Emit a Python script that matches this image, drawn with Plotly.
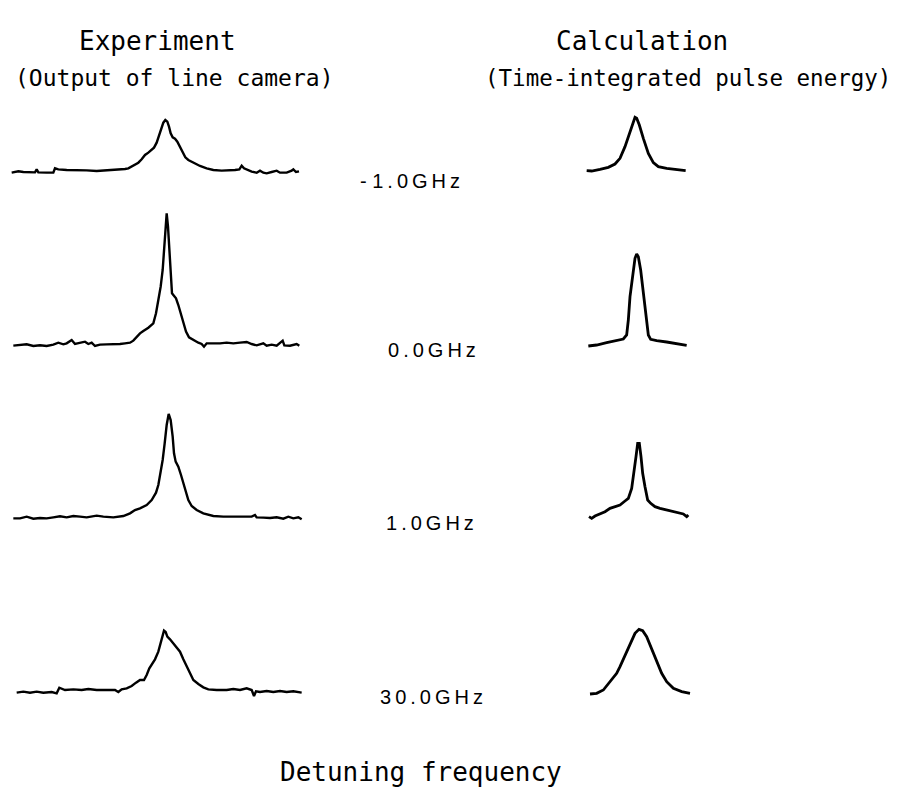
import plotly.graph_objects as go

# ---------------- data (channel, intensity in arbitrary units) ----------------
detunings = ["- 1.0GHz", "0.0GHz", "1.0GHz", "30.0GHz"]

exp1_x = [35, 55, 70, 90, 105, 110, 115, 140, 160, 165, 175, 200, 230, 260, 290, 320, 350, 375, 385, 395, 405, 415, 425, 435, 445, 455, 462, 470, 478, 485, 490, 496, 502, 507, 512, 518, 525, 532, 540, 548, 556, 565, 580, 600, 620, 640, 665, 690, 705, 718, 725, 732, 745, 755, 770, 780, 790, 800, 815, 830, 840, 860, 875, 880, 888, 897]
exp1_y = [0, 4, 2, 2, 1, 10, 1, 0, 0, 13, 10, 8, 8, 7, 5, 7, 8, 11, 13, 18, 23, 30, 40, 53, 60, 68, 75, 90, 113, 136, 150, 158, 153, 138, 118, 106, 102, 93, 78, 60, 46, 38, 30, 20, 13, 8, 6, 6, 8, 10, 21, 13, 8, 3, 0, 6, 0, -2, 2, 6, 0, 0, 6, 10, 2, 4]

exp2_x = [40, 60, 80, 100, 120, 140, 160, 175, 190, 200, 215, 225, 240, 255, 265, 275, 285, 300, 320, 340, 360, 375, 390, 400, 410, 420, 430, 445, 460, 468, 475, 482, 488, 492, 496, 500, 504, 508, 512, 516, 520, 528, 535, 542, 550, 558, 567, 580, 595, 605, 612, 620, 640, 660, 680, 700, 720, 740, 755, 770, 790, 800, 815, 830, 848, 853, 870, 890, 898]
exp2_y = [0, 1, 4, -1, 1, -1, 3, 9, 4, 7, 17, 5, 9, 12, 5, 9, -1, 3, 4, 4, 5, 7, 9, 15, 27, 37, 44, 54, 67, 97, 137, 177, 227, 287, 347, 397, 357, 287, 207, 157, 152, 142, 122, 97, 67, 42, 25, 17, 9, 5, -3, 7, 6, 7, 9, 7, 9, 11, 5, 1, 7, 0, 3, 0, 15, 1, 0, 5, 0]

exp3_x = [40, 60, 80, 100, 120, 140, 160, 180, 200, 220, 240, 260, 290, 310, 340, 370, 390, 405, 420, 440, 455, 468, 475, 482, 488, 494, 500, 506, 512, 518, 522, 527, 535, 543, 550, 558, 565, 575, 590, 610, 640, 670, 700, 730, 755, 765, 770, 790, 810, 830, 850, 865, 880, 895, 905]
exp3_y = [0, 0, 5, -1, 1, 0, 3, 6, 3, 7, 5, 3, 8, 5, 3, 7, 15, 25, 30, 40, 55, 77, 100, 140, 175, 225, 280, 313, 295, 245, 195, 170, 155, 130, 105, 80, 55, 37, 25, 15, 7, 5, 5, 7, 5, 10, 3, 2, 1, 3, -1, 5, 0, 3, -3]

exp4_x = [50, 70, 90, 110, 130, 155, 170, 178, 195, 220, 245, 265, 290, 320, 345, 355, 365, 380, 395, 408, 420, 432, 440, 448, 455, 465, 475, 482, 487, 492, 497, 502, 510, 520, 530, 540, 550, 560, 570, 580, 595, 610, 625, 650, 680, 700, 720, 740, 755, 762, 768, 780, 800, 820, 840, 860, 880, 905]
exp4_y = [0, 3, 0, 3, 0, 2, -2, 15, 8, 10, 8, 11, 8, 8, 8, 2, 10, 13, 20, 30, 38, 38, 53, 73, 83, 100, 123, 148, 168, 186, 182, 168, 160, 148, 133, 123, 100, 78, 55, 38, 26, 16, 10, 8, 8, 11, 8, 13, 8, -10, 4, 2, 5, 2, 5, 2, 4, 0]

calc1_x = [200, 215, 240, 265, 285, 300, 315, 330, 340, 345, 350, 358, 370, 385, 400, 415, 440, 470, 497]
calc1_y = [0, -1, 4, 10, 20, 37, 72, 117, 150, 160, 157, 137, 97, 52, 24, 12, 7, 4, 0]

calc2_x = [205, 230, 260, 290, 310, 320, 325, 330, 338, 345, 350, 355, 362, 370, 378, 385, 392, 410, 440, 470, 500]
calc2_y = [0, 3, 10, 16, 21, 33, 78, 148, 218, 263, 276, 268, 228, 158, 88, 33, 20, 16, 12, 6, 2]

calc3_x = [207, 215, 225, 240, 255, 270, 285, 300, 315, 325, 335, 342, 348, 353, 358, 363, 368, 375, 383, 392, 405, 420, 440, 460, 475, 490, 500, 505]
calc3_y = [2, -3, 4, 10, 17, 27, 32, 37, 49, 57, 87, 132, 182, 222, 222, 182, 132, 92, 52, 42, 32, 27, 22, 17, 12, 10, 2, 7]

calc4_x = [210, 230, 250, 270, 290, 300, 315, 330, 345, 357, 368, 380, 395, 410, 425, 440, 460, 485, 510]
calc4_y = [0, 2, 12, 37, 62, 82, 117, 152, 182, 194, 190, 172, 137, 97, 62, 37, 17, 7, 2]

# ---------------- layout geometry (page pixels; page body has an 8px margin) ----------------
OFF = 8
W, H = 900 - OFF, 804 - OFF
# (x, y, left px, top px, width px, height px, top-of-box in data units)
panels = [
    (exp1_x, exp1_y, 0, 100, 310, 90, 218),
    (exp2_x, exp2_y, 0, 200, 310, 160, 437),
    (exp3_x, exp3_y, 0, 400, 310, 130, 355),
    (exp4_x, exp4_y, 0, 610, 310, 110, 248),
    (calc1_x, calc1_y, 520, 100, 180, 80, 212),
    (calc2_x, calc2_y, 520, 240, 180, 110, 318),
    (calc3_x, calc3_y, 520, 430, 180, 100, 262),
    (calc4_x, calc4_y, 520, 620, 180, 90, 222),
]

fig = go.Figure()
layout_axes = {}
for i, (xs, ys, ox, oy, pw, ph, yb) in enumerate(panels, start=1):
    sfx = "" if i == 1 else str(i)
    left = ox - OFF
    xr0 = 0
    if left < 0:
        xr0 = -left * 3
        pw_eff = pw + left
        left = 0
    else:
        pw_eff = pw
    top = oy - OFF
    fig.add_trace(go.Scatter(
        x=xs, y=ys, mode="lines",
        line=dict(color="black", width=2.4 if i <= 4 else 2.8),
        xaxis="x" + sfx, yaxis="y" + sfx, showlegend=False, hoverinfo="skip",
        cliponaxis=False,
    ))
    layout_axes["xaxis" + sfx] = dict(
        domain=[left / W, (left + pw_eff) / W], range=[xr0, 3 * pw], anchor="y" + sfx,
        visible=False, fixedrange=True,
    )
    layout_axes["yaxis" + sfx] = dict(
        domain=[1 - (top + ph) / H, 1 - top / H], range=[yb - 3 * ph, yb],
        anchor="x" + sfx, visible=False, fixedrange=True,
    )

mono = "DejaVu Sans Mono"
ann = []
def px(x, y, text, size, family, xanchor="center"):
    ann.append(dict(x=(x - OFF) / W, y=1 - (y - OFF) / H, xref="paper", yref="paper",
                    text=text, showarrow=False, xanchor=xanchor, yanchor="middle",
                    font=dict(family=family, size=size, color="black")))

px(157, 41, "Experiment", 26, mono)
px(174, 78, "(Output of line camera)", 23, mono)
px(642, 41, "Calculation", 26, mono)
px(688, 78, "(Time-integrated pulse energy)", 22.5, mono)
px(421, 772, "Detuning frequency", 26, mono)

THIN = "\u2009"
NBSP = "\u00a0"
def spaced(t):
    if t.startswith("- "):
        return "-" + NBSP + THIN.join(t[2:])
    return THIN.join(t)

label_pos = [(410, 181), (432, 350), (430, 523), (431, 697)]
for (lx, ly), t in zip(label_pos, detunings):
    px(lx, ly, spaced(t), 20, "Liberation Sans")

fig.update_layout(
    width=W, height=H, margin=dict(l=0, r=0, t=0, b=0),
    paper_bgcolor="white", plot_bgcolor="rgba(0,0,0,0)",
    annotations=ann, **layout_axes,
)

fig.write_html("out.html")
